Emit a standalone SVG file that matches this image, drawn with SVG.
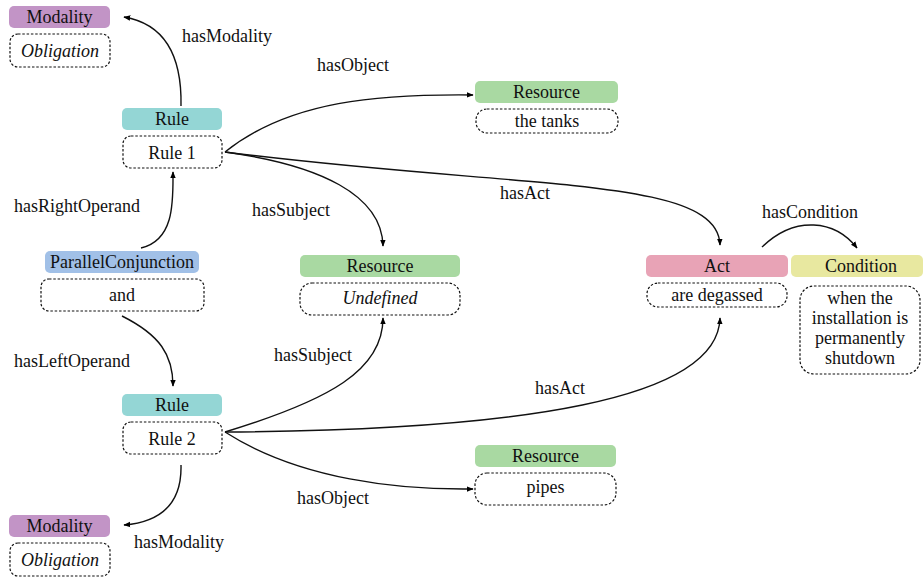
<svg xmlns="http://www.w3.org/2000/svg" width="923" height="579" viewBox="0 0 923 579">
<defs>
<marker id="ah" viewBox="0 0 10 10" refX="9" refY="5" markerWidth="7" markerHeight="7" orient="auto" markerUnits="userSpaceOnUse">
<path d="M0,1 L10,5 L0,9 Z" fill="#000"/>
</marker>
</defs>
<style>
.c{text-anchor:middle;}
.i{font-style:italic;}
.d{fill:#fff;stroke:#111;stroke-width:1.2;stroke-dasharray:2.5,1.8;}
.mod{fill:#c294c6;}
.rule{fill:#94d6d5;}
.res{fill:#a9d9a2;}
.act{fill:#e8a3b6;}
.cond{fill:#e8e8a0;}
.pc{fill:#a1c0e7;}
.e{fill:none;stroke:#111;stroke-width:1.4;marker-end:url(#ah);}
</style>
<g font-family="Times New Roman, DejaVu Serif, Liberation Serif, serif" font-size="18" fill="#111">
<g id="connectors">
<path class="e" d="M181,106 C182,55 165,24 124,17"/>
<path class="e" d="M225,152 C290,100 380,94 473,95"/>
<path class="e" d="M225,152 C520,190 718,175 720,245"/>
<path class="e" d="M225,152 C320,165 382,195 383,246"/>
<path class="e" d="M762,247 C795,215 835,220 857,248"/>
<path class="e" d="M141,248 C175,240 173,200 173,172"/>
<path class="e" d="M122,316 C160,335 173,355 173,386"/>
<path class="e" d="M225,432 C330,400 383,370 383,318"/>
<path class="e" d="M225,432 C520,430 718,400 720,318"/>
<path class="e" d="M225,432 C300,480 400,490 473,489"/>
<path class="e" d="M181,465 C182,505 160,522 124,525"/>
<text x="182" y="42">hasModality</text>
<text x="317" y="71">hasObject</text>
<text x="500" y="199">hasAct</text>
<text x="252" y="216">hasSubject</text>
<text x="762" y="218">hasCondition</text>
<text x="14" y="212">hasRightOperand</text>
<text x="14" y="367">hasLeftOperand</text>
<text x="274" y="361">hasSubject</text>
<text x="535" y="394">hasAct</text>
<text x="297" y="504">hasObject</text>
<text x="134" y="548">hasModality</text>
</g>
<g id="modality1">
<rect class="mod" x="9" y="6" width="101" height="22" rx="5"/>
<text class="c" x="59.5" y="23">Modality</text>
<rect class="d" x="10" y="34" width="100" height="33" rx="8"/>
<text class="c i" x="60" y="57">Obligation</text>
</g>
<g id="rule1">
<rect class="rule" x="122" y="108" width="100" height="22" rx="5"/>
<text class="c" x="172" y="125">Rule</text>
<rect class="d" x="123" y="136" width="99" height="32" rx="8"/>
<text class="c" x="172" y="159">Rule 1</text>
</g>
<g id="resource1">
<rect class="res" x="475" y="81" width="143" height="22" rx="5"/>
<text class="c" x="546.5" y="98">Resource</text>
<rect class="d" x="476" y="109" width="142" height="24" rx="11"/>
<text class="c" x="547" y="127">the tanks</text>
</g>
<g id="resource2">
<rect class="res" x="300" y="255" width="160" height="22" rx="5"/>
<text class="c" x="380" y="272">Resource</text>
<rect class="d" x="300" y="283" width="160" height="32" rx="12"/>
<text class="c i" x="380" y="304">Undefined</text>
</g>
<g id="act">
<rect class="act" x="646" y="255" width="142" height="22" rx="5"/>
<text class="c" x="717" y="272">Act</text>
<rect class="d" x="647" y="283" width="140" height="24" rx="11"/>
<text class="c" x="717" y="301">are degassed</text>
</g>
<g id="condition">
<rect class="cond" x="791" y="255" width="132" height="22" rx="5"/>
<text class="c" x="861" y="272">Condition</text>
<rect class="d" x="800" y="286" width="120" height="88" rx="14"/>
<text class="c" x="860" y="304">when the</text>
<text class="c" x="860" y="324">installation is</text>
<text class="c" x="860" y="344">permanently</text>
<text class="c" x="860" y="364">shutdown</text>
</g>
<g id="parallelconjunction">
<rect class="pc" x="45" y="251" width="154" height="22" rx="5"/>
<text class="c" x="122" y="268">ParallelConjunction</text>
<rect class="d" x="41" y="279" width="163" height="32" rx="8"/>
<text class="c" x="122" y="301">and</text>
</g>
<g id="rule2">
<rect class="rule" x="122" y="394" width="100" height="22" rx="5"/>
<text class="c" x="172" y="411">Rule</text>
<rect class="d" x="123" y="422" width="99" height="32" rx="8"/>
<text class="c" x="172" y="445">Rule 2</text>
</g>
<g id="resource3">
<rect class="res" x="475" y="445" width="141" height="22" rx="5"/>
<text class="c" x="545.5" y="462">Resource</text>
<rect class="d" x="475" y="473" width="141" height="32" rx="12"/>
<text class="c" x="545.5" y="493">pipes</text>
</g>
<g id="modality2">
<rect class="mod" x="9" y="515" width="101" height="22" rx="5"/>
<text class="c" x="59.5" y="532">Modality</text>
<rect class="d" x="10" y="543" width="100" height="33" rx="8"/>
<text class="c i" x="60" y="566">Obligation</text>
</g>
</g>
</svg>
